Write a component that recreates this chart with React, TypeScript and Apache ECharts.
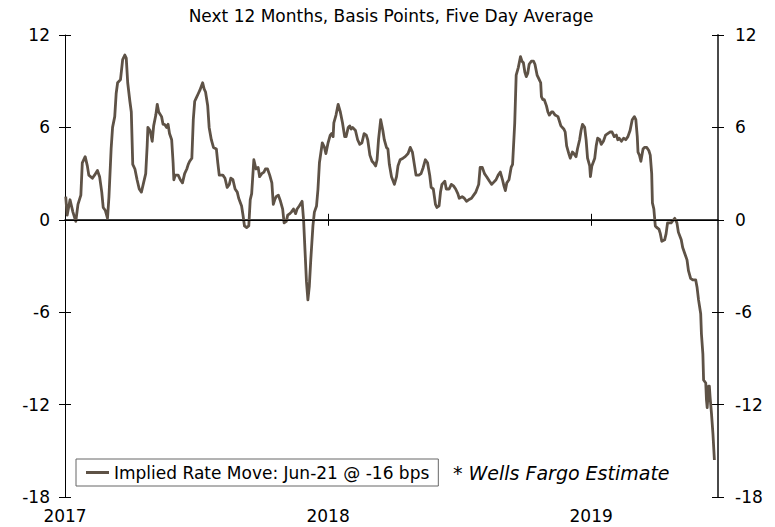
import React, { useEffect, useRef } from 'react';
import * as echarts from 'echarts';

const SUBTITLE = 'Next 12 Months, Basis Points, Five Day Average';
const SERIES_NAME = 'Implied Rate Move: Jun-21 @ -16 bps';
const NOTE_MARK = '*';
const NOTE_TEXT = 'Wells Fargo Estimate';
const X_MIN = '2017-01-01';
const X_MAX = '2019-06-26';
const YEAR_TICKS = ['2017-01-01', '2018-01-01', '2019-01-01'];
const Y_MIN = -18;
const Y_MAX = 12;
const Y_STEP = 6;

const DATES = [
  '2017-01-02','2017-01-04','2017-01-08','2017-01-12','2017-01-16','2017-01-19','2017-01-23','2017-01-25','2017-01-29',
  '2017-02-01','2017-02-03','2017-02-08','2017-02-11','2017-02-15','2017-02-18','2017-02-21','2017-02-23','2017-02-26',
  '2017-03-01','2017-03-03','2017-03-06','2017-03-08','2017-03-11','2017-03-13','2017-03-15','2017-03-19','2017-03-22','2017-03-25','2017-03-27','2017-03-29',
  '2017-04-01','2017-04-03','2017-04-05','2017-04-08','2017-04-11','2017-04-14','2017-04-17','2017-04-20','2017-04-23','2017-04-25','2017-04-26','2017-04-29',
  '2017-05-02','2017-05-04','2017-05-07','2017-05-09','2017-05-11','2017-05-15','2017-05-17','2017-05-19','2017-05-22','2017-05-24','2017-05-26','2017-05-29','2017-05-31',
  '2017-06-01','2017-06-03','2017-06-07','2017-06-10','2017-06-13','2017-06-16','2017-06-19','2017-06-21','2017-06-23','2017-06-26','2017-06-28','2017-06-30',
  '2017-07-02','2017-07-05','2017-07-07','2017-07-11','2017-07-13','2017-07-15','2017-07-18','2017-07-20','2017-07-23','2017-07-26','2017-07-30',
  '2017-08-01','2017-08-03','2017-08-05','2017-08-08','2017-08-11','2017-08-14','2017-08-17','2017-08-19','2017-08-22','2017-08-25','2017-08-28','2017-08-30',
  '2017-09-03','2017-09-05','2017-09-07','2017-09-10','2017-09-13','2017-09-15','2017-09-17','2017-09-20','2017-09-23','2017-09-26','2017-09-28',
  '2017-10-01','2017-10-04','2017-10-06','2017-10-09','2017-10-12','2017-10-15','2017-10-17','2017-10-19','2017-10-21','2017-10-24','2017-10-27','2017-10-30',
  '2017-11-01','2017-11-04','2017-11-06','2017-11-09','2017-11-11','2017-11-14','2017-11-17','2017-11-19','2017-11-22','2017-11-26','2017-11-28','2017-11-30',
  '2017-12-02','2017-12-04','2017-12-06','2017-12-08','2017-12-11','2017-12-13','2017-12-16','2017-12-18','2017-12-20','2017-12-24','2017-12-27','2017-12-29',
  '2018-01-01','2018-01-04','2018-01-06','2018-01-08','2018-01-09','2018-01-12','2018-01-15','2018-01-18','2018-01-21','2018-01-24','2018-01-26','2018-01-29','2018-01-31',
  '2018-02-02','2018-02-04','2018-02-08','2018-02-11','2018-02-14','2018-02-17','2018-02-20','2018-02-23','2018-02-25','2018-02-28',
  '2018-03-03','2018-03-05','2018-03-08','2018-03-10','2018-03-12','2018-03-15','2018-03-18','2018-03-20','2018-03-23','2018-03-25','2018-03-27','2018-03-30',
  '2018-04-03','2018-04-06','2018-04-08','2018-04-11','2018-04-15','2018-04-18','2018-04-22','2018-04-25','2018-04-28',
  '2018-05-01','2018-05-03','2018-05-07','2018-05-10','2018-05-13','2018-05-16','2018-05-19','2018-05-22','2018-05-24','2018-05-27','2018-05-30',
  '2018-06-01','2018-06-04','2018-06-06','2018-06-08','2018-06-12','2018-06-14','2018-06-18','2018-06-21','2018-06-24','2018-06-27','2018-06-30',
  '2018-07-02','2018-07-06','2018-07-09','2018-07-12','2018-07-15','2018-07-19','2018-07-22','2018-07-25','2018-07-29','2018-07-31',
  '2018-08-03','2018-08-06','2018-08-09','2018-08-13','2018-08-16','2018-08-18','2018-08-22','2018-08-25','2018-08-28','2018-08-31',
  '2018-09-02','2018-09-04','2018-09-06','2018-09-09','2018-09-12','2018-09-14','2018-09-17','2018-09-19','2018-09-22','2018-09-25','2018-09-27','2018-09-29',
  '2018-10-01','2018-10-03','2018-10-05','2018-10-07','2018-10-10','2018-10-13','2018-10-15','2018-10-18','2018-10-20','2018-10-23','2018-10-24','2018-10-26','2018-10-28','2018-10-31',
  '2018-11-02','2018-11-04','2018-11-07','2018-11-09','2018-11-12','2018-11-16','2018-11-18','2018-11-20','2018-11-24','2018-11-26','2018-11-28',
  '2018-12-01','2018-12-03','2018-12-06','2018-12-08','2018-12-11','2018-12-13','2018-12-16','2018-12-18','2018-12-20','2018-12-23','2018-12-25','2018-12-27','2018-12-30','2018-12-31',
  '2019-01-02','2019-01-06','2019-01-08','2019-01-10','2019-01-13','2019-01-15','2019-01-18','2019-01-21','2019-01-24','2019-01-27','2019-01-30',
  '2019-02-02','2019-02-05','2019-02-07','2019-02-09','2019-02-12','2019-02-15','2019-02-18','2019-02-21','2019-02-24','2019-02-27',
  '2019-03-02','2019-03-04','2019-03-06','2019-03-07','2019-03-09','2019-03-11','2019-03-14','2019-03-16','2019-03-19','2019-03-22','2019-03-24','2019-03-26','2019-03-27','2019-03-29','2019-03-31',
  '2019-04-02','2019-04-05','2019-04-07','2019-04-09','2019-04-13','2019-04-15','2019-04-17','2019-04-22','2019-04-27','2019-04-30',
  '2019-05-02','2019-05-06','2019-05-08','2019-05-11','2019-05-14','2019-05-16','2019-05-19','2019-05-22','2019-05-26','2019-05-28','2019-05-30',
  '2019-06-02','2019-06-03','2019-06-05','2019-06-06','2019-06-09','2019-06-10','2019-06-11','2019-06-13','2019-06-14','2019-06-15','2019-06-17','2019-06-19','2019-06-21',
];

const VALUES = [
  1.5, 0.3, 1.3, 0.5, -0.1, 1.0, 1.6, 3.7, 4.1,
  3.5, 2.9, 2.7, 2.9, 3.2, 2.8, 1.8, 0.8, 0.6,
  0.1, 1.5, 4.6, 6.0, 6.7, 8.2, 8.9, 9.1, 10.4, 10.7, 10.5, 8.9,
  7.7, 7.0, 3.6, 3.3, 2.6, 2.0, 1.8, 2.4, 3.0, 4.8, 6.0, 5.8,
  5.1, 6.1, 6.8, 7.5, 7.0, 6.7, 6.2, 6.2, 6.0, 6.2, 5.6, 5.2, 3.7,
  2.6, 2.9, 2.9, 2.6, 2.4, 3.0, 3.3, 3.6, 3.8, 4.0, 6.5, 7.7,
  7.9, 8.2, 8.4, 8.9, 8.5, 8.3, 7.4, 6.0, 5.2, 4.7, 4.6,
  3.7, 2.9, 2.9, 2.9, 2.7, 2.1, 2.3, 2.7, 2.6, 2.0, 1.8, 1.4,
  0.9, 0.3, -0.4, -0.5, -0.4, 1.3, 1.7, 3.9, 3.3, 3.4, 2.8,
  3.0, 3.1, 3.3, 3.3, 2.9, 2.4, 1.0, 1.3, 1.5, 1.6, 1.2, 0.7,
  -0.2, -0.1, 0.3, 0.4, 0.5, 0.7, 0.4, 0.7, 0.9, 1.2, 0.0, -2.0,
  -4.0, -5.2, -4.3, -2.6, -0.4, 0.5, 0.9, 2.0, 3.7, 5.0, 4.7, 4.3,
  5.0, 5.5, 5.6, 5.4, 6.3, 6.8, 7.5, 7.0, 6.3, 5.4, 5.4, 6.0, 6.1,
  5.9, 6.0, 5.8, 5.2, 4.9, 5.0, 5.6, 5.5, 5.2, 4.2,
  3.8, 3.7, 3.5, 3.9, 5.2, 6.5, 5.8, 5.2, 4.7, 4.6, 3.6, 2.8,
  2.3, 2.8, 3.5, 3.9, 4.0, 4.1, 4.3, 4.7, 4.4,
  3.5, 2.9, 2.9, 3.0, 3.4, 3.9, 3.7, 2.9, 2.1, 2.0, 1.0,
  0.8, 0.9, 1.8, 2.3, 2.5, 2.0, 2.0, 2.3, 2.2, 2.0, 1.7,
  1.4, 1.5, 1.4, 1.2, 1.3, 1.4, 1.6, 1.8, 2.3, 3.4,
  3.4, 3.0, 2.8, 2.5, 2.3, 2.4, 2.6, 2.9, 3.1, 2.6,
  2.2, 1.9, 2.4, 2.6, 3.4, 3.6, 6.3, 9.4, 9.9, 10.6, 10.3, 10.2,
  9.6, 9.3, 9.5, 10.1, 10.3, 10.3, 10.1, 9.4, 9.2, 8.9, 8.0, 7.8, 7.8, 7.4,
  7.0, 6.8, 7.0, 7.0, 6.8, 6.7, 6.4, 6.1, 5.9, 5.7, 4.8,
  4.3, 4.0, 4.4, 4.3, 4.1, 4.6, 5.2, 5.8, 6.2, 6.0, 5.2, 4.0, 3.5, 2.8,
  3.5, 4.0, 4.8, 5.3, 5.2, 4.9, 5.1, 5.5, 5.6, 5.7, 5.7,
  5.4, 5.5, 5.2, 5.3, 5.1, 5.3, 5.2, 5.4, 5.8, 6.5,
  6.7, 6.5, 5.4, 4.4, 4.2, 3.8, 4.6, 4.7, 4.7, 4.5, 4.2, 3.0, 1.1, 0.7, -0.4,
  -0.5, -0.6, -0.9, -1.4, -1.3, -0.9, -0.2, -0.2, 0.1, -0.2,
  -0.8, -1.3, -1.8, -2.2, -2.6, -3.3, -3.8, -3.9, -3.9, -4.4, -5.2,
  -6.1, -7.4, -8.7, -10.4, -10.6, -11.7, -12.2, -10.8, -10.8, -11.5, -12.6, -13.9, -15.6,
];

const FONT = '"DejaVu Sans", Verdana, sans-serif';
const LINE_COLOR = '#5E5246';

export default function App() {
  const ref = useRef<HTMLDivElement>(null);

  useEffect(() => {
    document.body.style.margin = '0';
    if (!ref.current) return;
    const chart = echarts.init(ref.current, null, { renderer: 'svg' });
    const ts = (s: string) => +echarts.time.parse(s);
    const yearTicks = YEAR_TICKS.map(ts);
    const data = DATES.map((d, i) => [ts(d), VALUES[i]]);

    const baseX = { type: 'value', min: ts(X_MIN), max: ts(X_MAX), splitLine: { show: false } };
    const baseY = { type: 'value', min: Y_MIN, max: Y_MAX, interval: Y_STEP, splitLine: { show: false } };

    chart.setOption({
      animation: false,
      textStyle: { fontFamily: FONT },
      grid: { left: 65, right: 57, top: 35, bottom: 30 },
      graphic: [
        {
          type: 'text', x: 391, y: 16,
          style: { text: SUBTITLE, fontSize: 17, fontFamily: FONT, fill: '#000', align: 'center', verticalAlign: 'middle' },
        },
        {
          type: 'text', x: 453, y: 473,
          style: {
            text: '{a|' + NOTE_MARK + ' }{b|' + NOTE_TEXT + '}',
            fontSize: 19, fontFamily: FONT, fill: '#000', align: 'left', verticalAlign: 'middle',
            rich: {
              a: { fontSize: 19, fontFamily: FONT, fontStyle: 'normal', fill: '#000' },
              b: { fontSize: 19, fontFamily: FONT, fontStyle: 'italic', fill: '#000' },
            },
          },
        },
      ],
      legend: {
        left: 76, top: 459,
        data: [SERIES_NAME],
        icon: 'rect', itemWidth: 23, itemHeight: 3,
        padding: [5, 9, 5, 10],
        borderColor: '#666', borderWidth: 1, backgroundColor: '#fff',
        textStyle: { fontSize: 17, color: '#000', fontFamily: FONT },
      },
      xAxis: [
        {
          ...baseX, position: 'bottom',
          axisLine: { show: true, lineStyle: { color: '#000', width: 1.5 } },
          axisTick: { show: true, customValues: yearTicks, length: 6, lineStyle: { color: '#000' } },
          axisLabel: {
            customValues: yearTicks, fontSize: 17, color: '#000', margin: 10, fontFamily: FONT,
            formatter: (v: number) => String(new Date(v).getFullYear()),
          },
        },
        {
          ...baseX, position: 'bottom',
          axisLine: { show: false },
          axisTick: { show: true, inside: true, customValues: yearTicks, length: 6, lineStyle: { color: '#000' } },
          axisLabel: { show: false },
        },
        {
          ...baseX, position: 'top',
          axisLine: { show: true, lineStyle: { color: '#000', width: 1 } },
          axisTick: { show: false },
          axisLabel: { show: false },
        },
      ],
      yAxis: [
        {
          ...baseY, position: 'left',
          axisLine: { show: true, lineStyle: { color: '#000', width: 1 } },
          axisTick: { show: true, length: 6, lineStyle: { color: '#000' } },
          axisLabel: { fontSize: 17, color: '#000', margin: 15, fontFamily: FONT },
        },
        {
          ...baseY, position: 'right',
          axisLine: { show: true, lineStyle: { color: '#4a4a4a', width: 2 } },
          axisTick: { show: true, length: 6, lineStyle: { color: '#000' } },
          axisLabel: { fontSize: 17, color: '#000', margin: 17, fontFamily: FONT },
        },
        {
          ...baseY, position: 'left',
          axisLine: { show: false },
          axisTick: { show: true, inside: true, length: 6, lineStyle: { color: '#000' } },
          axisLabel: { show: false },
        },
        {
          ...baseY, position: 'right',
          axisLine: { show: false },
          axisTick: { show: true, inside: true, length: 6, lineStyle: { color: '#000' } },
          axisLabel: { show: false },
        },
      ],
      series: [
        {
          name: SERIES_NAME,
          type: 'line',
          xAxisIndex: 0,
          yAxisIndex: 0,
          data,
          symbol: 'none',
          showSymbol: false,
          lineStyle: { color: LINE_COLOR, width: 2.8, join: 'round' },
          itemStyle: { color: LINE_COLOR },
          markLine: {
            silent: true,
            symbol: ['none', 'none'],
            label: { show: false },
            lineStyle: { color: '#000', width: 1, type: 'solid' },
            data: [{ yAxis: 0 }],
          },
          z: 3,
        },
      ],
    });
    return () => chart.dispose();
  }, []);

  return <div ref={ref} style={{ width: 775, height: 527 }} />;
}
